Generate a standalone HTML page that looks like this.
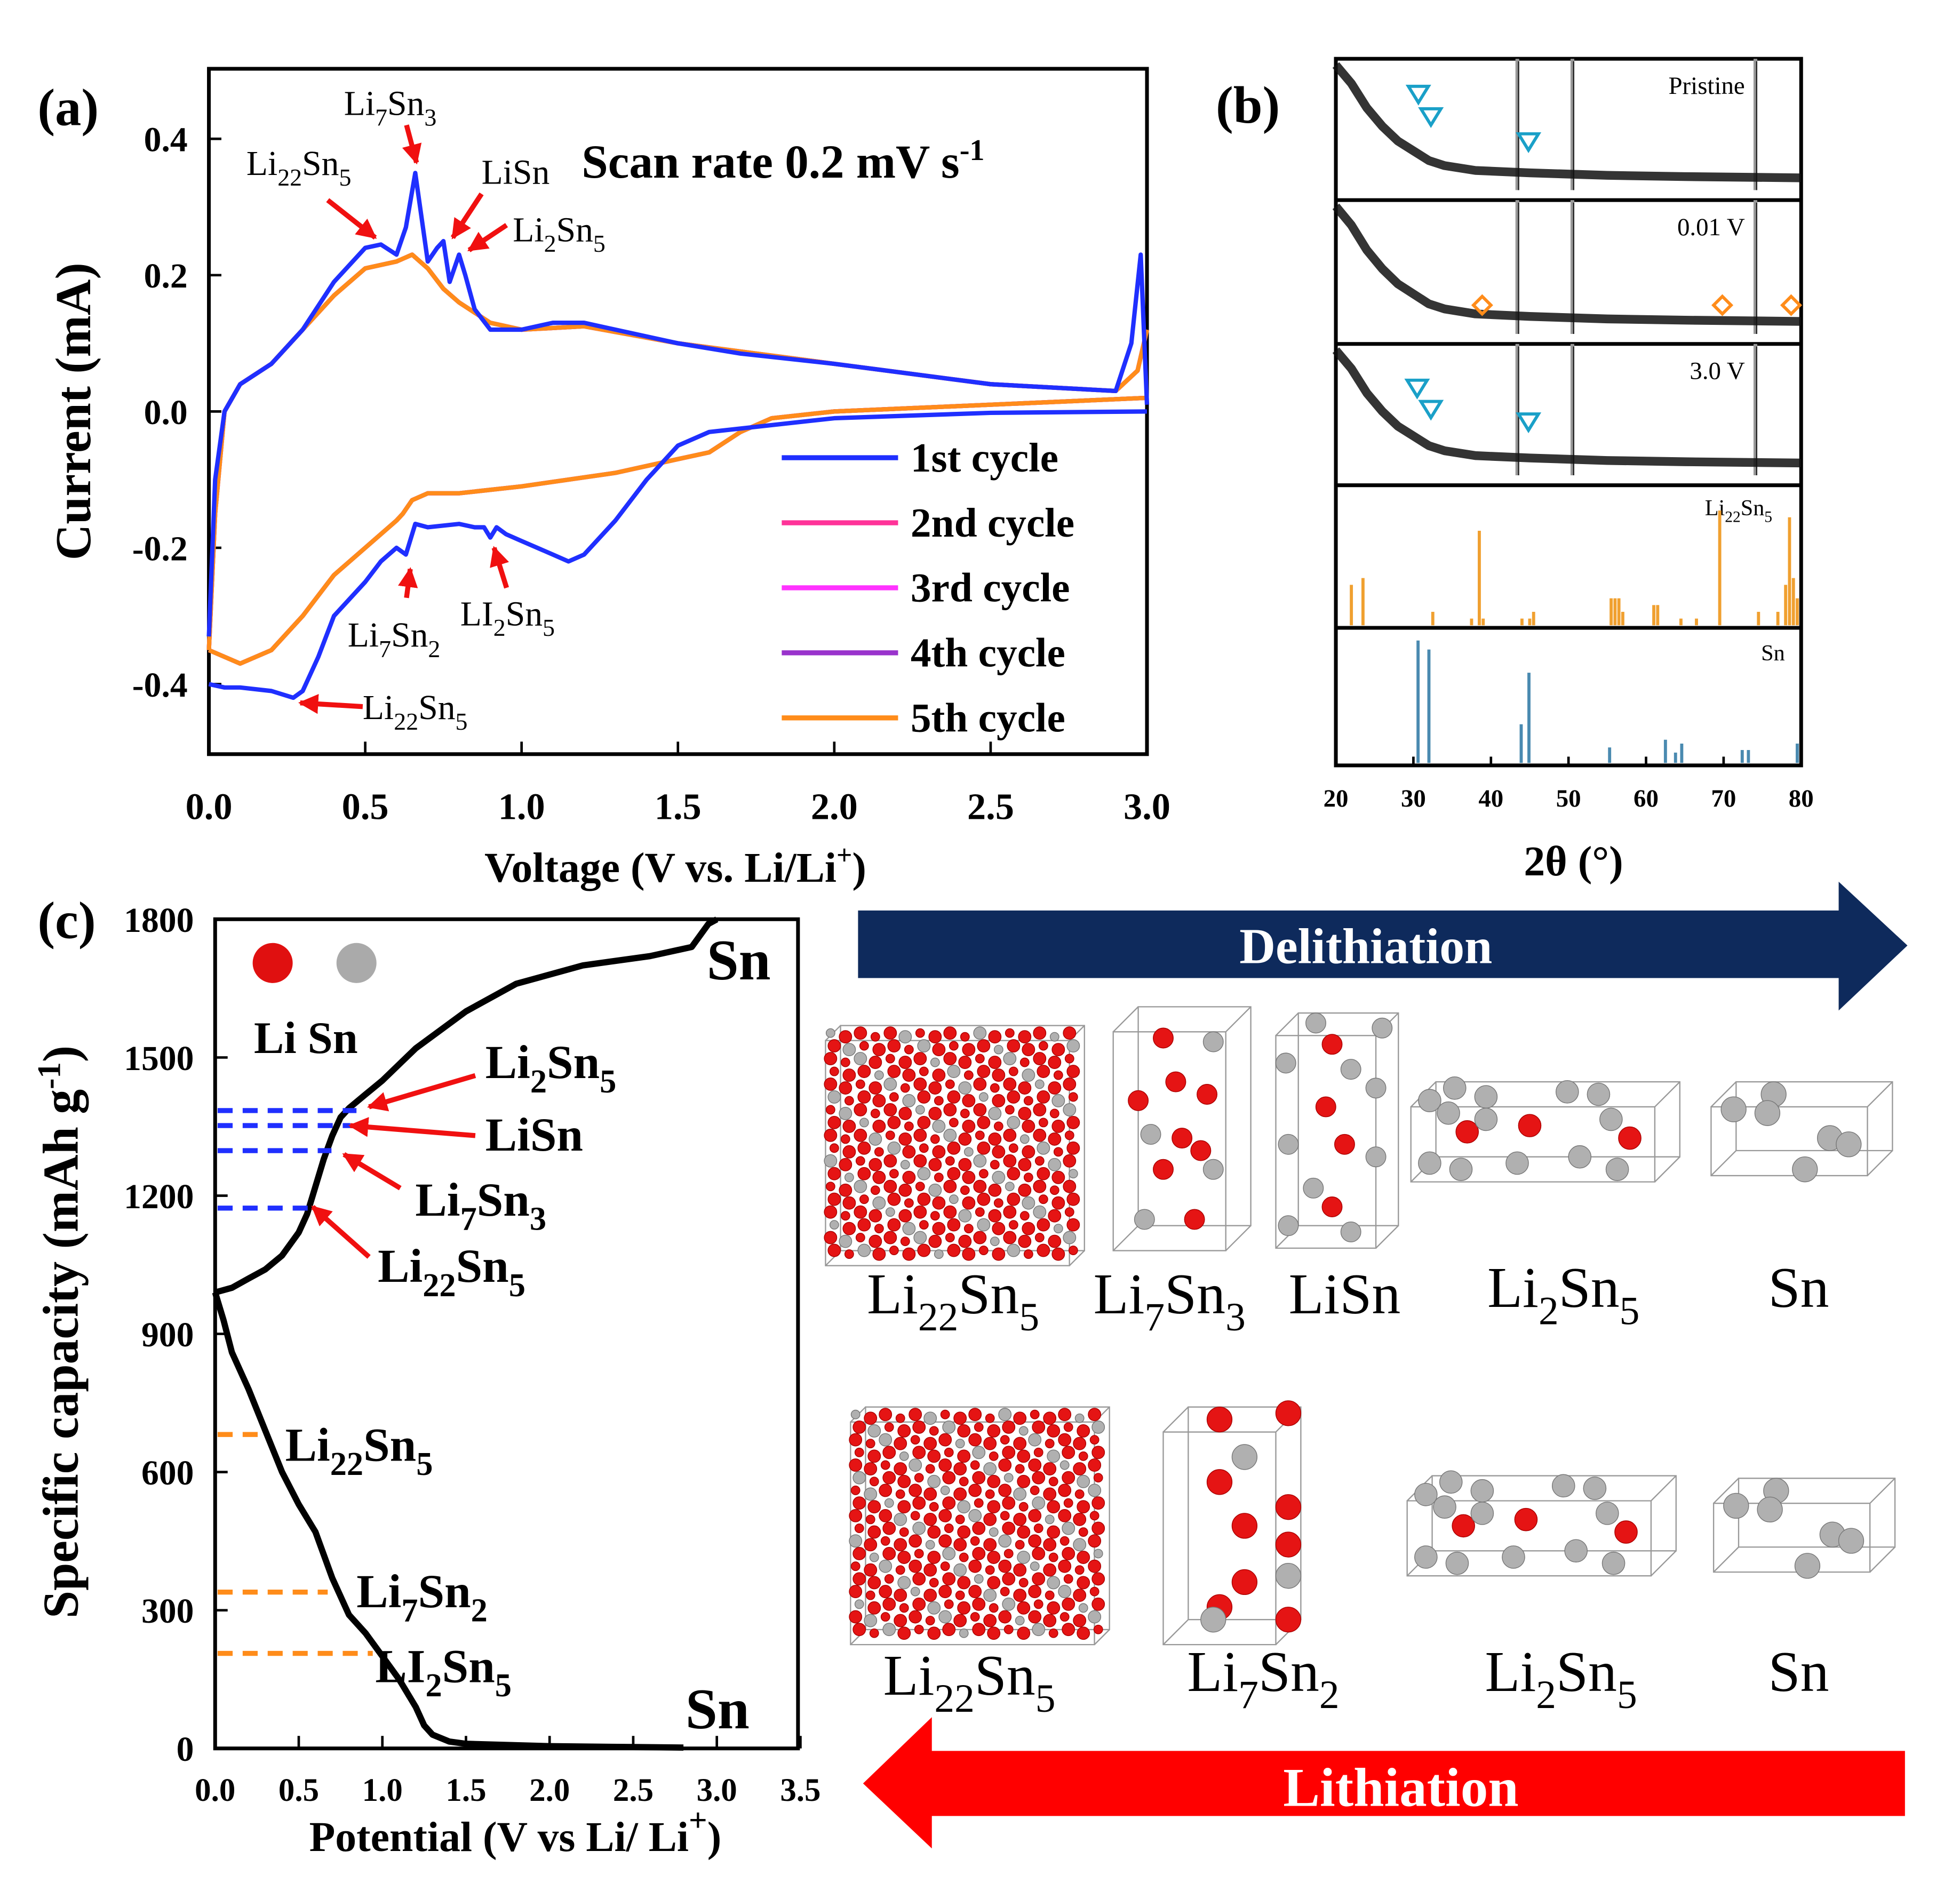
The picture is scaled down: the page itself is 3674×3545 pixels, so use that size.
<!DOCTYPE html>
<html><head><meta charset="utf-8"><style>
html,body{margin:0;padding:0;background:#fff;}
svg{display:block;}
text{font-family:"Liberation Serif",serif;}
</style></head><body>
<svg id="fig" width="3674" height="3545" viewBox="0 0 1567 1512" preserveAspectRatio="none" xmlns="http://www.w3.org/2000/svg">
<rect width="1567" height="1512" fill="#fff"/>
<g id="pa"></g>
<g id="pb"></g>
<g id="pc"></g>
<g id="pd"></g>
</svg>
<script>
// ---------- Panel (a) data ----------
const cv1UpV=[0,0.02,0.05,0.1,0.2,0.3,0.4,0.5,0.55,0.6,0.63,0.66,0.7,0.73,0.75,0.77,0.8,0.82,0.85,0.9,1.0,1.1,1.2,1.3,1.5,1.7,2.0,2.5,2.9,2.95,2.98,3.0];
const cv1UpI=[-0.33,-0.1,0.0,0.04,0.07,0.12,0.19,0.24,0.245,0.23,0.27,0.35,0.22,0.24,0.25,0.19,0.23,0.2,0.15,0.12,0.12,0.13,0.13,0.12,0.1,0.085,0.07,0.04,0.03,0.1,0.23,0.01];
const cv1DnV=[3.0,2.5,2.0,1.6,1.5,1.4,1.3,1.2,1.15,1.1,1.0,0.95,0.92,0.9,0.88,0.85,0.8,0.7,0.66,0.63,0.6,0.55,0.5,0.4,0.35,0.3,0.27,0.2,0.1,0.05,0.0];
const cv1DnI=[0.0,-0.002,-0.01,-0.03,-0.05,-0.1,-0.16,-0.21,-0.22,-0.21,-0.19,-0.18,-0.17,-0.185,-0.17,-0.17,-0.165,-0.17,-0.165,-0.21,-0.2,-0.22,-0.25,-0.3,-0.36,-0.41,-0.42,-0.41,-0.405,-0.405,-0.4];
const cvNUpV=[0,0.02,0.05,0.1,0.2,0.3,0.4,0.5,0.6,0.65,0.7,0.75,0.8,0.9,1.0,1.2,1.5,2.0,2.5,2.9,2.97,3.0];
const cvNUpI=[-0.35,-0.15,0.0,0.04,0.07,0.12,0.17,0.21,0.22,0.23,0.21,0.18,0.16,0.13,0.12,0.125,0.1,0.07,0.04,0.03,0.06,0.12];
const cvNDnV=[3.0,2.5,2.0,1.8,1.7,1.6,1.5,1.3,1.0,0.8,0.7,0.65,0.62,0.6,0.5,0.4,0.3,0.2,0.1,0.05,0.0];
const cvNDnI=[0.02,0.01,0.0,-0.01,-0.03,-0.06,-0.07,-0.09,-0.11,-0.12,-0.12,-0.13,-0.15,-0.16,-0.2,-0.24,-0.3,-0.35,-0.37,-0.36,-0.35];
const cvLegend=["1st cycle","2nd cycle","3rd cycle","4th cycle","5th cycle"];
const cvColors=["#1f2fff","#ff3399","#ff33ff","#9933cc","#ff8c1a"];
const cvXTicks=[0,0.5,1.0,1.5,2.0,2.5,3.0];
const cvYTicks=[0.4,0.2,0.0,-0.2,-0.4];
// ---------- Panel (b) data ----------
const xrdXTicks=[20,30,40,50,60,70,80];
const xrdBgT=[20,22,24,26,28,30,32,34,38,45,55,65,80];
const xrdBgI=[1.0,0.85,0.65,0.5,0.38,0.3,0.22,0.18,0.14,0.12,0.1,0.09,0.08];
const xrdCuPeaks=[43.4,50.5,74.1];
const li22T=[22,23.5,32.5,37.5,38.5,39,44,45,45.5,55.5,56,56.5,57,61,61.5,64.5,66.5,69.5,74.5,77,78,78.5,79,79.5];
const li22H=[0.3,0.35,0.1,0.05,0.7,0.05,0.05,0.05,0.1,0.2,0.2,0.2,0.1,0.15,0.15,0.05,0.05,0.85,0.1,0.1,0.3,0.8,0.35,0.2];
const snT=[30.6,32,43.9,44.9,55.3,62.5,63.8,64.6,72.4,73.2,79.5];
const snH=[0.95,0.88,0.3,0.7,0.12,0.18,0.08,0.15,0.1,0.1,0.15];
// ---------- Panel (c) data ----------
const disV=[0,0.05,0.1,0.2,0.3,0.4,0.5,0.6,0.65,0.7,0.8,0.9,1.0,1.1,1.2,1.25,1.3,1.4,1.5,2.0,2.5,2.8];
const disC=[990,930,860,780,690,600,530,470,420,370,290,250,200,150,90,50,30,15,10,5,3,2];
const chgV=[0,0.1,0.2,0.3,0.4,0.5,0.55,0.6,0.65,0.7,0.75,0.8,0.9,1.0,1.2,1.5,1.8,2.2,2.6,2.85,2.95,3.0];
const chgC=[990,1000,1020,1040,1070,1120,1160,1220,1280,1330,1370,1390,1420,1450,1520,1600,1660,1700,1720,1740,1790,1800];
const capYTicks=[0,300,600,900,1200,1500,1800];
const capXTicks=[0,0.5,1.0,1.5,2.0,2.5,3.0,3.5];

const NS="http://www.w3.org/2000/svg";
function mk(parent,tag,attrs){const e=document.createElementNS(NS,tag);for(const k in attrs)e.setAttribute(k,attrs[k]);parent.appendChild(e);return e;}
function txt(parent,x,y,s,size,opt){opt=opt||{};const t=mk(parent,"text",{x:x,y:y,"font-size":size,"text-anchor":opt.a||"start","font-weight":opt.w||"normal",fill:opt.f||"#000"});if(opt.rot)t.setAttribute("transform","rotate("+opt.rot+" "+x+" "+y+")");t.innerHTML=s;return t;}
function sub(s,size){return '<tspan dy="'+(size*0.3)+'" font-size="'+(size*0.7)+'">'+s+'</tspan><tspan dy="'+(-size*0.3)+'">\u200b</tspan>';}

// ================= Panel A =================
const A=document.getElementById("pa");
const ax=v=>167+v*250, ay=i=>329-i*545;
let e=mk(A,"rect",{x:167,y:55,width:750,height:548,fill:"none",stroke:"#000","stroke-width":3});


cvXTicks.forEach(v=>{mk(A,"line",{x1:ax(v),x2:ax(v),y1:603,y2:593,stroke:"#000","stroke-width":2});
 const t=txt(A,ax(v),655,v.toFixed(1),30,{a:"middle",w:"bold"});
 
 });
cvYTicks.forEach(v=>{mk(A,"line",{x1:167,x2:177,y1:ay(v),y2:ay(v),stroke:"#000","stroke-width":2});
 const t=txt(A,150,ay(v)+10,v.toFixed(1),28,{a:"end",w:"bold"});
 
 });
e=txt(A,72,329,"Current (mA)",40,{a:"middle",w:"bold",rot:-90});


e=txt(A,540,705,'Voltage (V vs. Li/Li<tspan dy="-14" font-size="22">+</tspan><tspan dy="14">)</tspan>',34,{a:"middle",w:"bold"});


e=txt(A,30,100,"(a)",42,{w:"bold"});


e=txt(A,465,142,'Scan rate 0.2 mV s<tspan dy="-14" font-size="24">-1</tspan>',38,{w:"bold"});


function poly(g,xs,ys,fx,fy,col,w){return mk(g,"polyline",{points:xs.map((v,i)=>fx(v).toFixed(1)+","+fy(ys[i]).toFixed(1)).join(" "),fill:"none",stroke:col,"stroke-width":w,"stroke-linejoin":"round"});}
[1,2,3,4].forEach(k=>{
 const l1=poly(A,cvNUpV,cvNUpI,ax,ay,cvColors[k],3.5);
 
 
 const l2=poly(A,cvNDnV,cvNDnI,ax,ay,cvColors[k],3.5);
 
 
});
e=poly(A,cv1UpV,cv1UpI,ax,ay,cvColors[0],3.5);


e=poly(A,cv1DnV,cv1DnI,ax,ay,cvColors[0],3.5);


cvLegend.forEach((s,i)=>{const y=366+i*52;
 const l=mk(A,"line",{x1:625,x2:718,y1:y,y2:y,stroke:cvColors[i],"stroke-width":4});
 
 
 const t=txt(A,728,y+11,s,33,{w:"bold"});
 
 });
let defs=mk(document.getElementById("fig"),"defs",{});
defs.innerHTML='<marker id="ar" viewBox="0 0 10 10" refX="9" refY="5" markerWidth="4" markerHeight="4" orient="auto"><path d="M0,0L10,5L0,10z" fill="#f01010"/></marker>';
function arrow(g,x1,y1,x2,y2){const a=mk(g,"line",{x1:x1,y1:y1,x2:x2,y2:y2,stroke:"#f01010","stroke-width":4,"marker-end":"url(#ar)"});}
function chem(g,x,y,parts,size,name){let h="";parts.forEach((p,i)=>{h+= i%2? sub(p,size):p;});const t=txt(g,x,y,h,size);return t;}
chem(A,275,92,["Li","7","Sn","3"],28,"label-li7sn3");
arrow(A,325,100,333,130);
chem(A,197,140,["Li","22","Sn","5"],28,"label-li22sn5-a");
arrow(A,262,160,300,190);
chem(A,385,147,["LiSn"],28,"label-lisn-a");
arrow(A,385,155,362,190);
chem(A,410,193,["Li","2","Sn","5"],28,"label-li2sn5-a");
arrow(A,405,180,375,200);
chem(A,278,517,["Li","7","Sn","2"],28,"label-li7sn2-a");
arrow(A,325,478,328,455);
chem(A,368,500,["LI","2","Sn","5"],28,"label-li2sn5-cathodic");
arrow(A,405,470,395,438);
chem(A,290,575,["Li","22","Sn","5"],28,"label-li22sn5-cathodic");
arrow(A,290,565,240,562);

// ================= Panel B =================
const B=document.getElementById("pb");
const bx=t=>1068+(t-20)*6.2;
const sp=[[47,160,"Pristine"],[160,275,"0.01 V"],[275,388,"3.0 V"],[388,502,""],[502,612,""]];
e=mk(B,"rect",{x:1068,y:47,width:372,height:565,fill:"none",stroke:"#000","stroke-width":3});


[160,275,388,502].forEach(y=>mk(B,"line",{x1:1068,x2:1440,y1:y,y2:y,stroke:"#000","stroke-width":3}));
for(let k=0;k<3;k++){const [t,b,lab]=sp[k];
 const h=b-t;
 xrdCuPeaks.forEach(p=>{const l=mk(B,"line",{x1:bx(p),x2:bx(p),y1:t,y2:b-8,stroke:"#999","stroke-width":3});
   mk(B,"line",{x1:bx(p)+1,x2:bx(p)+1,y1:t+2,y2:b-8,stroke:"#222","stroke-width":1});});
 const pts=xrdBgT.map((v,i)=>bx(v).toFixed(1)+","+(b-10-xrdBgI[i]*(h-15)).toFixed(1)).join(" ");
 const l=mk(B,"polyline",{points:pts,fill:"none",stroke:"#111","stroke-width":7,"stroke-linejoin":"round","stroke-opacity":0.85});
 
 
 const tt=txt(B,1395,t+28,lab,20,{a:"end"});
 
 
}
function tri(x,y){const p=mk(B,"path",{d:`M${x-8},${y-6}L${x+8},${y-6}L${x},${y+7}Z`,fill:"none",stroke:"#1aa0c8","stroke-width":2.5});}
function dia(x,y){const p=mk(B,"path",{d:`M${x},${y-7}L${x+7},${y}L${x},${y+7}L${x-7},${y}Z`,fill:"none",stroke:"#ff8c1a","stroke-width":2.5});}
tri(1134,75);tri(1144,93);tri(1222,113);tri(1133,310);tri(1144,327);tri(1222,337);
dia(1185,244);dia(1377,244);dia(1432,244);
chem(B,1363,412,["Li","22","Sn","5"],18,"ref-label-li22sn5");
const lab5=txt(B,1427,528,"Sn",18,{a:"end"});
li22T.forEach((t,i)=>{const l=mk(B,"line",{x1:bx(t),x2:bx(t),y1:500,y2:500-li22H[i]*108,stroke:"#f0a030","stroke-width":2.5});});
snT.forEach((t,i)=>{const l=mk(B,"line",{x1:bx(t),x2:bx(t),y1:610,y2:610-snH[i]*103,stroke:"#4a8ab0","stroke-width":2.5});});
xrdXTicks.forEach(v=>{mk(B,"line",{x1:bx(v),x2:bx(v),y1:612,y2:605,stroke:"#000","stroke-width":2});
 const t=txt(B,bx(v),645,v,20,{a:"middle",w:"bold"});});
e=txt(B,1258,700,"2θ (°)",34,{a:"middle",w:"bold"});


e=txt(B,972,98,"(b)",42,{w:"bold"});



// ================= Panel C =================
const C=document.getElementById("pc");
const cx=v=>172+v*133.7, cy=c=>1398-c*0.3683;
e=mk(C,"rect",{x:172,y:735,width:466,height:663,fill:"none",stroke:"#000","stroke-width":3});


capYTicks.forEach(v=>{mk(C,"line",{x1:172,x2:182,y1:cy(v),y2:cy(v),stroke:"#000","stroke-width":2});
 const t=txt(C,155,cy(v)+10,v,28,{a:"end",w:"bold"});});
capXTicks.forEach(v=>{mk(C,"line",{x1:cx(v),x2:cx(v),y1:1398,y2:1388,stroke:"#000","stroke-width":2});
 const t=txt(C,cx(v),1440,v.toFixed(1),26,{a:"middle",w:"bold"});});
e=txt(C,62,1065,'Specific capacity (mAh g<tspan dy="-14" font-size="26">-1</tspan><tspan dy="14">)</tspan>',40,{a:"middle",w:"bold",rot:-90});


e=txt(C,412,1480,'Potential (V vs Li/ Li<tspan dy="-16" font-size="26">+</tspan><tspan dy="16">)</tspan>',34,{a:"middle",w:"bold"});


e=txt(C,30,750,"(c)",42,{w:"bold"});


e=poly(C,disV,disC,cx,cy,"#000",5);


e=poly(C,chgV,chgC,cx,cy,"#000",5);


function dash(y1,x2,col,n){const l=mk(C,"line",{x1:174,x2:x2,y1:y1,y2:y1,stroke:col,"stroke-width":4,"stroke-dasharray":"12 8"});}
dash(888,285,"#1f2fff","phase-line");dash(900,280,"#1f2fff","phase-line");dash(920,265,"#1f2fff","phase-line");dash(966,248,"#1f2fff","phase-line");
dash(1147,212,"#ff8c1a","phase-line");dash(1273,262,"#ff8c1a","phase-line");dash(1322,298,"#ff8c1a","phase-line");
e=mk(C,"circle",{cx:218,cy:770,r:16,fill:"#e01010"});
e=mk(C,"circle",{cx:285,cy:770,r:16,fill:"#aaa"});
e=txt(C,203,842,"Li Sn",36,{w:"bold"});
e=txt(C,565,783,"Sn",46,{w:"bold"});
e=txt(C,548,1382,"Sn",46,{w:"bold"});
function chemB(x,y,parts,size,name){let h="";parts.forEach((p,i)=>{h+= i%2? sub(p,size):p;});const t=txt(C,x,y,h,size,{w:"bold"});}
chemB(388,862,["Li","2","Sn","5"],38,"label-li2sn5-c");arrow(C,380,860,295,885);
chemB(388,920,["LiSn"],38,"label-lisn-c");arrow(C,380,908,280,900);
chemB(332,972,["Li","7","Sn","3"],38,"label-li7sn3-c");arrow(C,320,950,275,923);
chemB(302,1025,["Li","22","Sn","5"],38,"label-li22sn5-c");arrow(C,295,1005,250,965);
chemB(228,1168,["Li","22","Sn","5"],38,"label-li22sn5-dis");
chemB(285,1285,["Li","7","Sn","2"],38,"label-li7sn2-dis");
chemB(300,1345,["LI","2","Sn","5"],38,"label-li2sn5-dis");

// ================= Structures =================
const D=document.getElementById("pd");
e=mk(D,"path",{d:"M686,728L1470,728L1470,705L1525,756L1470,808L1470,782L686,782Z",fill:"#0e2a5c"});

e=txt(D,1092,770,"Delithiation",40,{a:"middle",w:"bold",f:"#fff"});

e=mk(D,"path",{d:"M1523,1400L745,1400L745,1373L690,1426L745,1478L745,1452L1523,1452Z",fill:"#ff0000"});

e=txt(D,1120,1444,"Lithiation",44,{a:"middle",w:"bold",f:"#fff"});

function box(x,y,w,h,d){const g=mk(D,"g",{});
 mk(g,"path",{d:`M${x},${y+d}h${w}v${h}h${-w}Z M${x+d},${y}h${w}v${h}h${-w}Z M${x},${y+d}L${x+d},${y} M${x+w},${y+d}L${x+w+d},${y} M${x},${y+d+h}L${x+d},${y+h} M${x+w},${y+d+h}L${x+w+d},${y+h}`,fill:"none",stroke:"#999","stroke-width":1});return g;}
function atom(g,x,y,r,li){mk(g,"circle",{cx:x,cy:y,r:r,fill:li?"#e51414":"#b0b0b0",stroke:li?"#a00":"#777","stroke-width":0.6});}
function dense(x,y,w,h){const g=box(x,y,w,h,12);for(let i=0;i<17;i++)for(let j=0;j<18;j++){const px=x+4+i*(w+8)/17+(j%2)*3,py=y+6+j*(h+4)/18+(i%2)*3;atom(g,px,py,(i+j)%3?5:3.5,(i*7+j*3)%5!==0);}}
dense(660,820,195,180);dense(680,1125,195,178);
function cell(x,y,w,h,d,atoms){const g=box(x,y,w,h,d);atoms.forEach(a=>atom(g,x+a[0],y+a[1],a[2]||8,a[3]));}
cell(890,805,90,175,20,[[40,25,8,1],[80,28,8,0],[20,75,8,1],[50,60,8,1],[75,70,8,1],[30,102,8,0],[55,105,8,1],[70,115,8,1],[40,130,8,1],[80,130,8,0],[25,170,8,0],[65,170,8,1]]);
cell(1020,810,80,170,18,[[32,8,8,0],[85,12,8,0],[45,25,8,1],[8,40,8,0],[60,45,8,0],[80,60,8,0],[40,75,8,1],[10,105,8,0],[55,105,8,1],[80,115,8,0],[30,140,8,0],[45,155,8,1],[10,170,8,0],[60,175,8,0]]);
cell(1128,865,195,60,20,[[15,15,9,0],[35,5,9,0],[60,12,9,0],[30,25,9,0],[45,40,9,1],[60,30,9,0],[95,35,9,1],[125,8,9,0],[150,10,9,0],[160,30,9,0],[175,45,9,1],[15,65,9,0],[40,70,9,0],[85,65,9,0],[135,60,9,0],[165,70,9,0]]);
cell(1368,865,125,55,20,[[18,22,10,0],[50,10,10,0],[45,25,10,0],[95,45,10,0],[110,50,10,0],[75,70,10,0]]);
cell(930,1125,90,170,20,[[45,10,10,1],[100,5,10,1],[65,40,10,0],[45,60,10,1],[100,80,10,1],[65,95,10,1],[100,110,10,1],[100,135,10,0],[65,140,10,1],[45,160,10,1],[100,170,10,1],[40,170,10,0]]);
cell(1125,1180,195,60,20,[[15,15,9,0],[35,5,9,0],[60,12,9,0],[30,25,9,0],[45,40,9,1],[60,30,9,0],[95,35,9,1],[125,8,9,0],[150,10,9,0],[160,30,9,0],[175,45,9,1],[15,65,9,0],[40,70,9,0],[85,65,9,0],[135,60,9,0],[165,70,9,0]]);
cell(1370,1182,125,55,20,[[18,22,10,0],[50,10,10,0],[45,25,10,0],[95,45,10,0],[110,50,10,0],[75,70,10,0]]);
function clab(x,y,parts,name){let h="";parts.forEach((p,i)=>{h+= i%2? sub(p,46):p;});const t=txt(D,x,y,h,46,{a:"middle"});}
clab(762,1050,["Li","22","Sn","5"],"struct-label-li22sn5");
clab(935,1050,["Li","7","Sn","3"],"struct-label-li7sn3");
clab(1075,1050,["LiSn"],"struct-label-lisn");
clab(1250,1045,["Li","2","Sn","5"],"struct-label-li2sn5");
clab(1438,1045,["Sn"],"struct-label-sn");
clab(775,1355,["Li","22","Sn","5"],"struct-label-li22sn5-bottom");
clab(1010,1352,["Li","7","Sn","2"],"struct-label-li7sn2");
clab(1248,1352,["Li","2","Sn","5"],"struct-label-li2sn5-bottom");
clab(1438,1352,["Sn"],"struct-label-sn-bottom");
</script>
</body></html>
